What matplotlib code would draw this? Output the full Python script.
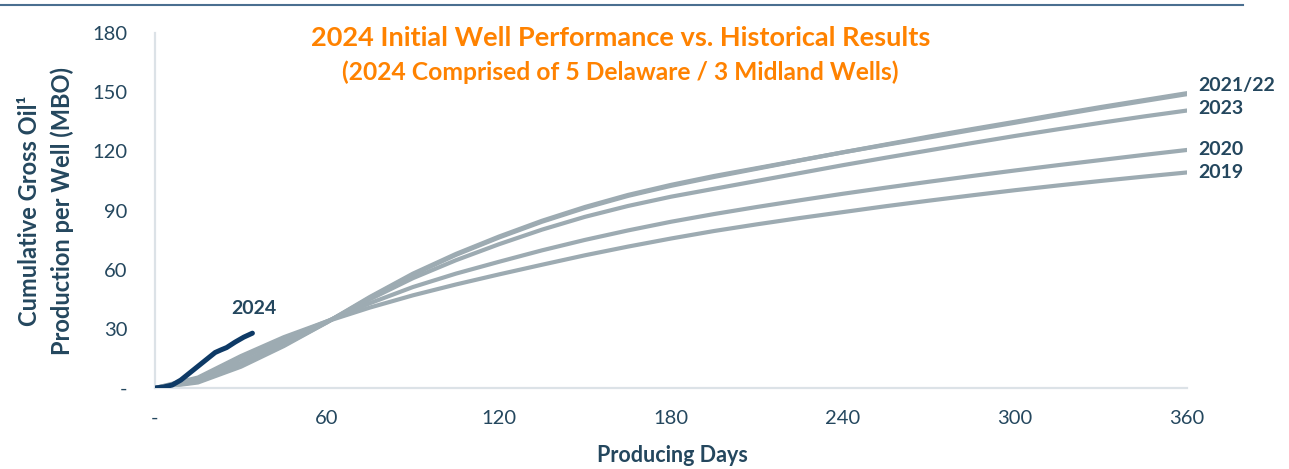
import matplotlib
matplotlib.use("Agg")
import matplotlib.pyplot as plt
from matplotlib.lines import Line2D

plt.rcParams['font.family'] = ['Lato', 'DejaVu Sans']

days = [0, 15, 30, 45, 60, 75, 90, 105, 120, 135, 150, 165, 180, 195, 210, 225, 240,
        255, 270, 285, 300, 315, 330, 345, 360]
y2021 = [0, 3.2, 11.5, 21.8, 33.3, 45.8, 57.5, 67.5, 76.3, 84.3, 91.3, 97.4, 102.5, 107.0, 111.2,
         115.4, 119.5, 123.5, 127.5, 131.3, 135.0, 138.8, 142.5, 146.0, 149.5]
y2022 = [0, 2.8, 10.8, 21.3, 33.3, 46.2, 58.0, 68.0, 76.8, 84.8, 91.8, 97.9, 103.0, 107.5, 111.5,
         115.5, 119.5, 123.3, 127.0, 130.8, 134.5, 138.3, 142.0, 145.5, 149.0]
y2023 = [0, 3.8, 12.8, 23.0, 33.5, 45.0, 55.7, 64.8, 72.9, 80.3, 86.8, 92.3, 97.0, 101.0, 105.0,
         109.0, 113.0, 116.8, 120.5, 124.2, 127.8, 131.2, 134.5, 137.7, 140.7]
y2020 = [0, 4.8, 14.8, 24.8, 33.8, 43.0, 51.2, 58.0, 64.0, 69.8, 75.1, 79.9, 84.3, 88.2, 91.8,
         95.2, 98.5, 101.6, 104.6, 107.5, 110.3, 113.0, 115.6, 118.2, 120.7]
y2019 = [0, 5.3, 16.2, 25.8, 33.8, 40.8, 47.0, 52.5, 57.6, 62.5, 67.3, 71.7, 75.8, 79.6, 83.0,
         86.2, 89.2, 92.2, 95.0, 97.7, 100.3, 102.7, 105.0, 107.2, 109.3]

days_2024 = [0, 3, 6, 9, 12, 15, 18, 21, 23, 25, 28, 31, 34]
y2024 = [0, 0.5, 1.5, 4.0, 7.5, 11.0, 14.5, 18.0, 19.3, 20.5, 23.3, 25.8, 27.8]

x_ticks = [0, 60, 120, 180, 240, 300, 360]
x_labels = ['-', '60', '120', '180', '240', '300', '360']
y_ticks = [0, 30, 60, 90, 120, 150, 180]
y_labels = ['-', '30', '60', '90', '120', '150', '180']

hist_series = [("2021", y2021), ("2022", y2022), ("2023", y2023), ("2020", y2020), ("2019", y2019)]
end_labels = [("2021/22", 153.2), ("2023", 141.5), ("2020", 120.7), ("2019", 109.5)]
ylabel_lines = ["Cumulative Gross Oil\u00b9", "Production per Well (MBO)"]

GRAY = '#9DABB2'
NAVY = '#0E3A66'
TXT = '#24475E'
ORANGE = '#FF8200'

fig = plt.figure(figsize=(12.89, 4.69), dpi=100)
ax = fig.add_axes([0.1202, 0.1727, 0.8007, 0.7569])

for name, ys in hist_series:
    ax.plot(days, ys, color=GRAY, lw=3.0, solid_capstyle='round', solid_joinstyle='round')
ax.plot(days_2024, y2024, color=NAVY, lw=3.6, solid_capstyle='round', solid_joinstyle='round', zorder=5)

for lab, yv in end_labels:
    ax.text(363.8, yv, lab, color=TXT, fontsize=14, fontweight='bold', va='center', ha='left')
ax.text(34.5, 40.5, "2024", color=TXT, fontsize=14, fontweight='bold', va='center', ha='center')

ax.set_xlim(0, 360)
ax.set_ylim(0, 180)
ax.set_xticks(x_ticks)
ax.set_xticklabels(x_labels)
ax.set_yticks(y_ticks)
ax.set_yticklabels(y_labels)
ax.tick_params(axis='both', length=0, labelsize=14.5, labelcolor=TXT)
ax.tick_params(axis='y', pad=20)
ax.tick_params(axis='x', pad=16)
for s in ['top', 'right']:
    ax.spines[s].set_visible(False)
for s in ['left', 'bottom']:
    ax.spines[s].set_color('#DCE2E7')
    ax.spines[s].set_linewidth(1.6)

fig.text(672 / 1289, 1 - 455 / 469, "Producing Days", color=TXT, fontsize=15.5, fontweight='bold',
         ha='center', va='center')
for xpix, line in zip([30, 62], ylabel_lines):
    fig.text(xpix / 1289, 1 - 210.5 / 469, line, color=TXT, fontsize=17, fontweight='bold',
             rotation=90, ha='center', va='center')

fig.text(620.5 / 1289, 1 - 38 / 469, "2024 Initial Well Performance vs. Historical Results", color=ORANGE,
         fontsize=19.5, fontweight='bold', ha='center', va='center')
fig.text(620 / 1289, 1 - 72 / 469, "(2024 Comprised of 5 Delaware / 3 Midland Wells)", color=ORANGE,
         fontsize=17.7, fontweight='bold', ha='center', va='center')

fig.add_artist(Line2D([0, 1243 / 1289], [1 - 5 / 469, 1 - 5 / 469], transform=fig.transFigure,
                      color='#4A6F90', lw=1.5))

fig.savefig("out.png", dpi=100)
